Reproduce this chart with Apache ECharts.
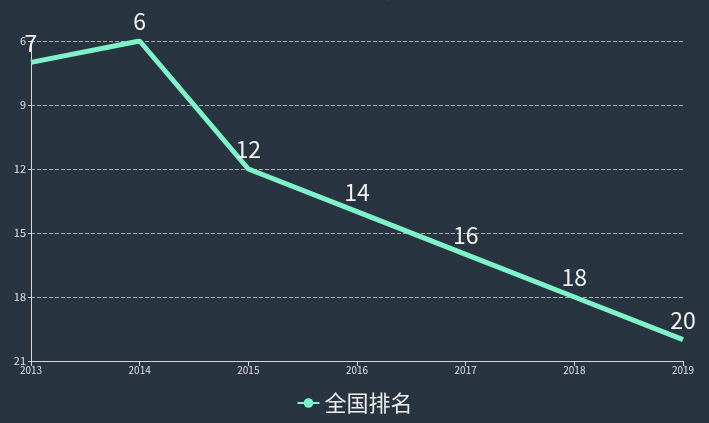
<!DOCTYPE html>
<html>
<head>
<meta charset="utf-8">
<script src="https://cdn.jsdelivr.net/npm/echarts@6/dist/echarts.min.js"></script>
<style>
html,body{margin:0;padding:0;background:#283440;}
#chart{width:709px;height:423px;}
</style>
</head>
<body>
<div id="chart"></div>
<script>
var years = ['2013', '2014', '2015', '2016', '2017', '2018', '2019'];
var rankData = [7, 6, 12, 14, 16, 18, 20];
var seriesName = '全国排名';

var myChart = echarts.init(document.getElementById('chart'));
myChart.setOption({
    backgroundColor: '#283440',
    textStyle: {fontFamily: 'Noto Sans CJK SC'},
    title: {
        text: '全国排名走势',
        left: 'center',
        top: -21,
        textStyle: {color: '#cfd3d8', fontSize: 16, fontWeight: 'normal'}
    },
    legend: {
        bottom: 4,
        left: 'center',
        data: [seriesName],
        itemWidth: 22,
        itemHeight: 12,
        textStyle: {color: '#eeeeee', fontSize: 22}
    },
    grid: {left: 31, right: 26, top: 41, bottom: 62},
    xAxis: {
        type: 'category',
        boundaryGap: false,
        data: years,
        axisLine: {lineStyle: {color: '#d8d8d8'}},
        axisTick: {show: true, alignWithLabel: true, lineStyle: {color: '#d8d8d8'}},
        axisLabel: {color: '#e0e0e0', fontSize: 10, margin: 4},
        splitLine: {show: false}
    },
    yAxis: {
        type: 'value',
        inverse: true,
        min: 6,
        max: 21,
        interval: 3,
        axisLine: {show: true, lineStyle: {color: '#d8d8d8'}},
        axisTick: {show: true, length: 3, lineStyle: {color: '#d8d8d8'}},
        axisLabel: {color: '#e0e0e0', fontSize: 11, margin: 5},
        splitLine: {lineStyle: {color: '#a8adb3', type: 'dashed'}}
    },
    series: [{
        name: seriesName,
        type: 'line',
        data: rankData,
        symbol: 'circle',
        symbolSize: 0,
        showSymbol: true,
        color: '#7ef2c9',
        lineStyle: {width: 5, color: '#7ef2c9'},
        label: {
            show: true,
            position: 'top',
            color: '#f2f2f2',
            fontSize: 23,
            distance: 8
        }
    }]
});
window.addEventListener('resize', function () {
    myChart.resize();
});
</script>
</body>
</html>
